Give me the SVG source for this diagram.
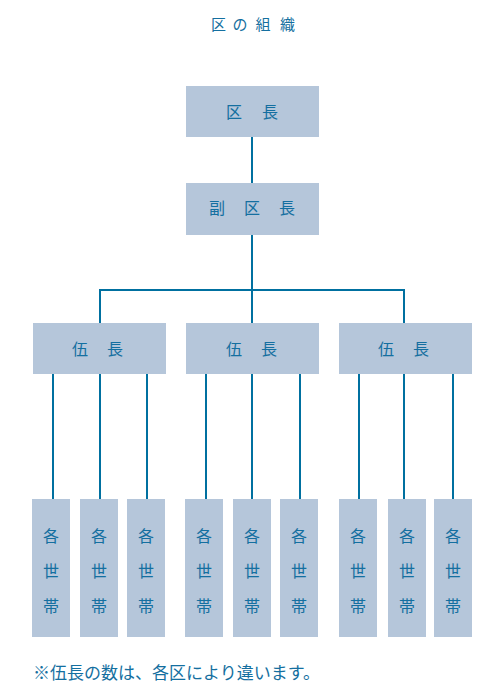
<svg xmlns="http://www.w3.org/2000/svg" width="500" height="691" viewBox="0 0 500 691">
<style>
.box{fill:#b5c6da}
.t{font-family:"Noto Sans CJK JP","Noto Sans",sans-serif;font-size:16px;fill:#146fa0;text-anchor:middle}
.title{font-family:"Noto Sans CJK JP","Noto Sans",sans-serif;font-size:15px;fill:#146fa0;text-anchor:middle}
.note{font-family:"Noto Sans CJK JP","Noto Sans",sans-serif;font-size:17px;fill:#146fa0}
.ln{stroke:#0070a0;stroke-width:2;fill:none}
</style>
<rect width="500" height="691" fill="#fff"/>
<g id="title">
<text class="title" x="218.5" y="30">区</text>
<text class="title" x="240" y="30">の</text>
<text class="title" x="263" y="30">組</text>
<text class="title" x="287.5" y="30">織</text>
</g>
<g id="connectors">
<path class="ln" d="M252 137V183M252 235V323M100 323V290H404V323"/>
<path class="ln" d="M53 374V499M100 374V499M147 374V499"/>
<path class="ln" d="M206 374V499M252 374V499M300 374V499"/>
<path class="ln" d="M359 374V499M404 374V499M453 374V499"/>
</g>
<g id="kucho">
<rect class="box" x="186" y="86" width="133" height="51"/>
<text class="t" x="234" y="118">区</text><text class="t" x="270" y="118">長</text>
</g>
<g id="fukukucho">
<rect class="box" x="186" y="183" width="133" height="52"/>
<text class="t" x="217" y="214">副</text><text class="t" x="252" y="214">区</text><text class="t" x="287" y="214">長</text>
</g>
<g id="gocho1">
<rect class="box" x="33" y="323" width="133" height="51"/>
<text class="t" x="80" y="355">伍</text><text class="t" x="115" y="355">長</text>
</g>
<g id="gocho2">
<rect class="box" x="186" y="323" width="133" height="51"/>
<text class="t" x="234" y="355">伍</text><text class="t" x="269" y="355">長</text>
</g>
<g id="gocho3">
<rect class="box" x="339" y="323" width="133" height="51"/>
<text class="t" x="386" y="355">伍</text><text class="t" x="421" y="355">長</text>
</g>
<defs>
<g id="hh">
<rect class="box" x="0" y="499" width="38" height="138"/>
<text class="t" x="19" y="542">各</text>
<text class="t" x="19" y="577">世</text>
<text class="t" x="19" y="612">帯</text>
</g>
</defs>
<g id="hh1"><use href="#hh" x="32"/></g>
<g id="hh2"><use href="#hh" x="80"/></g>
<g id="hh3"><use href="#hh" x="127"/></g>
<g id="hh4"><use href="#hh" x="185"/></g>
<g id="hh5"><use href="#hh" x="233"/></g>
<g id="hh6"><use href="#hh" x="280"/></g>
<g id="hh7"><use href="#hh" x="339"/></g>
<g id="hh8"><use href="#hh" x="388"/></g>
<g id="hh9"><use href="#hh" x="434"/></g>
<g id="note">
<text class="note" x="33" y="679">※伍長の数は、各区により違います。</text>
</g>
</svg>
